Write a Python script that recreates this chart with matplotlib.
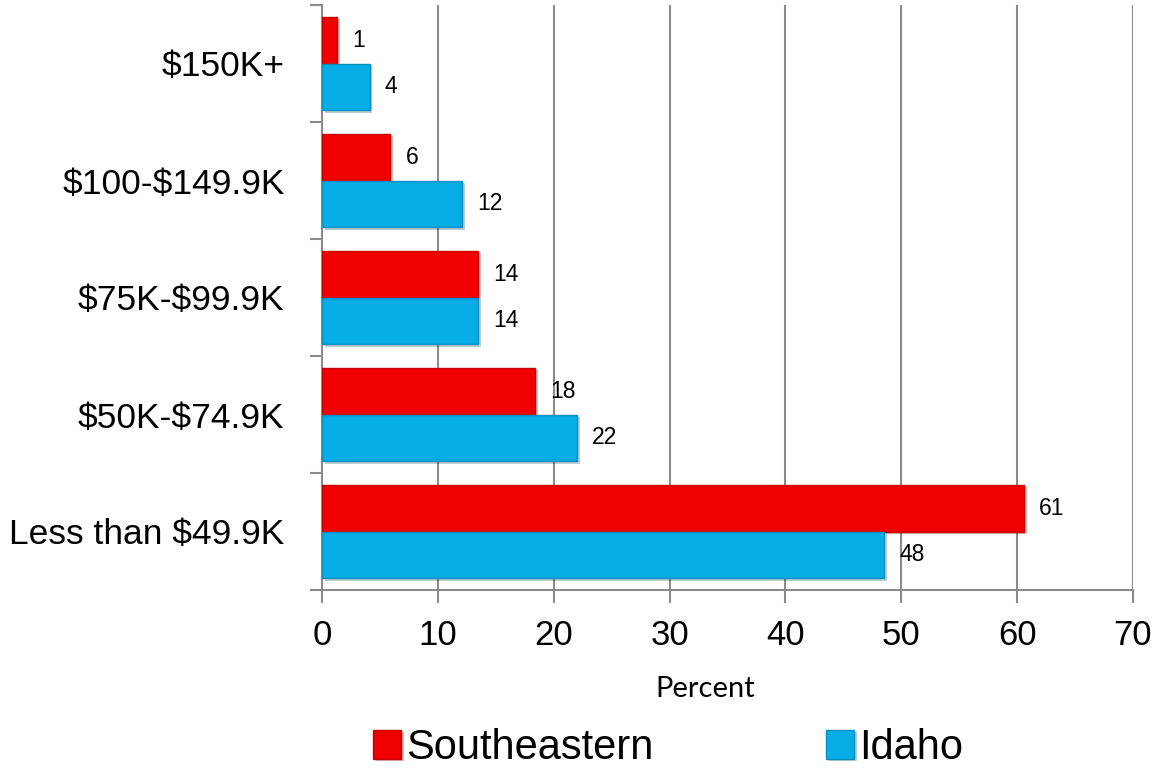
import matplotlib
matplotlib.use("Agg")
import matplotlib.pyplot as plt
import matplotlib.patheffects as pe
import numpy as np

plt.rcParams["text.parse_math"] = False
plt.rcParams["font.family"] = ["Liberation Sans", "DejaVu Sans"]

CATEGORIES = ["$150K+", "$100-$149.9K", "$75K-$99.9K", "$50K-$74.9K", "Less than $49.9K"]
SOUTHEASTERN = [1.3, 5.9, 13.5, 18.4, 60.6]
IDAHO = [4.1, 12.1, 13.5, 22.0, 48.5]
SOUTHEASTERN_LABELS = ["1", "6", "14", "18", "61"]
IDAHO_LABELS = ["4", "12", "14", "22", "48"]
X_TICKS = [0, 10, 20, 30, 40, 50, 60, 70]

RED = "#F00000"
BLUE = "#08ADE6"
GRAY = "#8C8C8C"

fig = plt.figure(figsize=(11.61, 7.72), dpi=100)
ax = fig.add_axes([322 / 1161, 1 - 590 / 772, (1133 - 322) / 1161, (590 - 5) / 772])

y = np.arange(len(CATEGORIES))[::-1].astype(float)
height = 0.4
shadow = [pe.SimplePatchShadow(offset=(2, -2), alpha=0.25), pe.Normal()]

red_bars = ax.barh(y + 0.2, SOUTHEASTERN, height=height, color=RED,
                   edgecolor="#C80000", linewidth=1.0, label="Southeastern", zorder=3)
blue_bars = ax.barh(y - 0.2, IDAHO, height=height, color=BLUE,
                    edgecolor="#0690C0", linewidth=1.0, label="Idaho", zorder=3)
for bar in list(red_bars) + list(blue_bars):
    bar.set_path_effects(shadow)

for bars, labels in ((red_bars, SOUTHEASTERN_LABELS), (blue_bars, IDAHO_LABELS)):
    for bar, text in zip(bars, labels):
        ax.annotate(text, (bar.get_width(), bar.get_y() + bar.get_height() / 2),
                    xytext=(11, 0), textcoords="offset points",
                    ha="left", va="center", fontsize=16.5, zorder=4)

ax.set_xlim(0, 70)
ax.set_ylim(-0.5, len(CATEGORIES) - 0.5)
ax.set_xticks(X_TICKS)
ax.set_xticklabels([str(t) for t in X_TICKS], fontsize=25)
ax.set_yticks(y)
ax.set_yticklabels(CATEGORIES, fontsize=25.5)
ax.tick_params(axis="y", length=0, pad=27)
ax.set_yticks(np.arange(-0.5, len(CATEGORIES), 1.0), minor=True)
ax.tick_params(axis="y", which="minor", length=9, width=1.5, color=GRAY, direction="out")
ax.tick_params(axis="x", length=9, width=1.5, color=GRAY, direction="out", pad=12)

ax.grid(True, axis="x", color=GRAY, linewidth=1.5, zorder=0)
ax.set_axisbelow(True)
for side in ("top", "right"):
    ax.spines[side].set_visible(False)
for side in ("left", "bottom"):
    ax.spines[side].set_color(GRAY)
    ax.spines[side].set_linewidth(1.5)

fig.text(705 / 1161, 1 - 689 / 772, "Percent", ha="center", va="center",
         fontsize=21, family=["Lato", "DejaVu Sans"])

handles = [red_bars, blue_bars]
fig.legend(handles, ["Southeastern", "Idaho"], loc="lower center",
           bbox_to_anchor=(668 / 1161, -0.043), ncol=2, frameon=False,
           fontsize=30, handlelength=0.67, handleheight=0.7,
           handletextpad=0.12, columnspacing=4.15)

fig.savefig("out.png", dpi=100)
